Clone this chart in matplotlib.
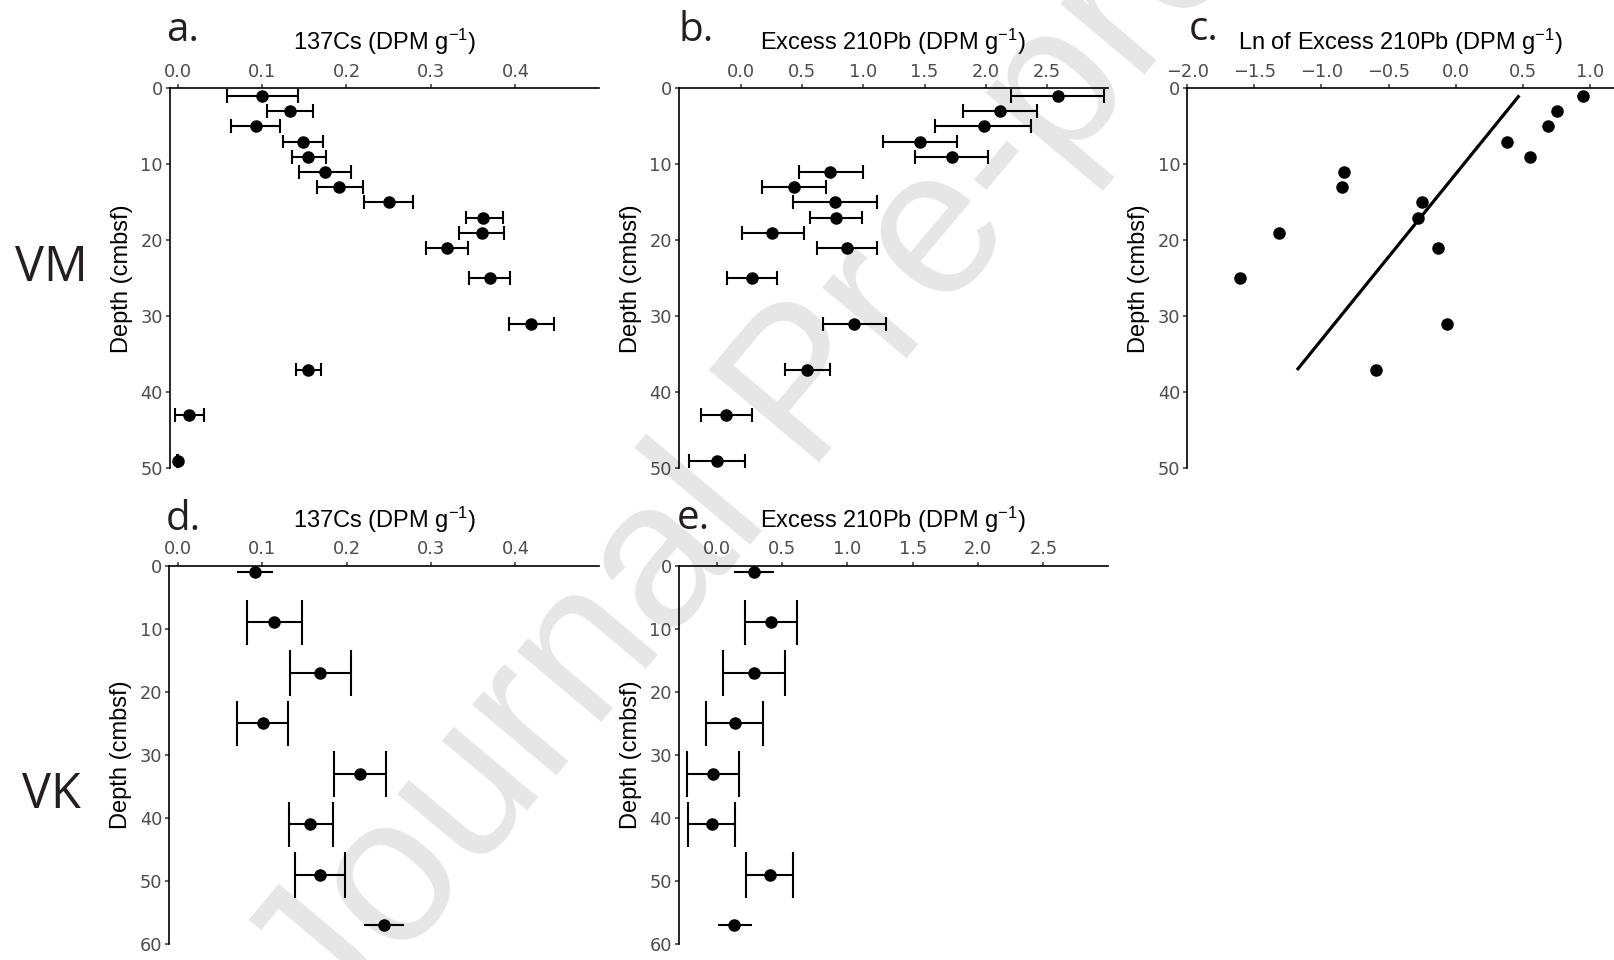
import matplotlib
matplotlib.use("Agg")
import matplotlib.pyplot as plt

plt.rcParams['font.family'] = ['Liberation Sans', 'DejaVu Sans']
plt.rcParams['mathtext.fontset'] = 'custom'
plt.rcParams['mathtext.rm'] = 'Liberation Sans'
plt.rcParams['mathtext.default'] = 'regular'

# ---- VM core (panels a, b, c) ----
depth_vm = [1, 3, 5, 7, 9, 11, 13, 15, 17, 19, 21, 25, 31, 37, 43, 49]
cs_vm = [0.100, 0.133, 0.0925, 0.148, 0.155, 0.175, 0.191, 0.250,
         0.362, 0.360, 0.319, 0.370, 0.419, 0.155, 0.014, 0.0004]
cs_vm_lo = [0.058, 0.1055, 0.063, 0.125, 0.135, 0.144, 0.165, 0.221,
            0.341, 0.333, 0.294, 0.345, 0.392, 0.140, -0.0036, -0.001]
cs_vm_hi = [0.142, 0.160, 0.121, 0.172, 0.176, 0.205, 0.219, 0.279,
            0.385, 0.387, 0.344, 0.394, 0.446, 0.170, 0.0316, 0.001]

pb_vm = [2.593, 2.118, 1.984, 1.463, 1.725, 0.729, 0.428, 0.767,
         0.772, 0.254, 0.865, 0.087, 0.925, 0.540, -0.123, -0.202]
pb_vm_lo = [2.211, 1.812, 1.588, 1.160, 1.425, 0.472, 0.169, 0.426,
            0.559, 0.003, 0.620, -0.117, 0.666, 0.358, -0.333, -0.426]
pb_vm_hi = [2.967, 2.421, 2.374, 1.766, 2.022, 0.993, 0.690, 1.114,
            0.985, 0.510, 1.114, 0.289, 1.182, 0.726, 0.085, 0.030]

depth_ln = [1, 3, 5, 7, 9, 11, 13, 15, 17, 19, 21, 25, 31, 37]
ln_pb_vm = [0.951, 0.755, 0.690, 0.385, 0.554, -0.830, -0.850, -0.248,
            -0.278, -1.316, -0.132, -1.605, -0.065, -0.591]
fit_x = [0.467, -1.175]
fit_depth = [1.1, 36.9]

# ---- VK core (panels d, e) ----
depth_vk = [1, 9, 17, 25, 33, 41, 49, 57]
cs_vk = [0.0917, 0.1142, 0.169, 0.1008, 0.216, 0.157, 0.168, 0.244]
cs_vk_lo = [0.070, 0.0818, 0.133, 0.0707, 0.1846, 0.132, 0.139, 0.221]
cs_vk_hi = [0.1134, 0.147, 0.2055, 0.131, 0.247, 0.184, 0.198, 0.268]
pb_vk = [0.288, 0.416, 0.283, 0.138, -0.026, -0.036, 0.408, 0.135]
pb_vk_lo = [0.135, 0.214, 0.046, -0.082, -0.227, -0.222, 0.227, 0.008]
pb_vk_hi = [0.441, 0.617, 0.526, 0.355, 0.173, 0.143, 0.584, 0.268]
vk_caps = [False, True, True, True, True, True, True, False]

W, H = 1614, 960
fig = plt.figure(figsize=(W / 100, H / 100), dpi=100)

cs_label = r'137Cs (DPM g$^{-1}$)'
pb_label = r'Excess 210Pb (DPM g$^{-1}$)'
ln_label = r'Ln of Excess 210Pb (DPM g$^{-1}$)'


def make_axes(x0, x1, ytop, ybot, xlim, ylim_max, xticks, xlabel):
    ax = fig.add_axes([x0 / W, 1 - ybot / H, (x1 - x0) / W, (ybot - ytop) / H])
    ax.set_xlim(*xlim)
    ax.set_ylim(ylim_max, 0)
    ax.set_xticks(xticks)
    ax.set_xticklabels([f'{t:.1f}'.replace('-', '\u2212') for t in xticks])
    ax.set_yticks(range(0, ylim_max + 1, 10))
    ax.xaxis.tick_top()
    ax.xaxis.set_label_position('top')
    for s in ['right', 'bottom']:
        ax.spines[s].set_visible(False)
    for s in ['left', 'top']:
        ax.spines[s].set_linewidth(1.2)
        ax.spines[s].set_color('black')
    ax.tick_params(axis='both', direction='out', length=3, width=1.1,
                   color='#333333', labelcolor='#4D4D4D', labelsize=12.8,
                   labelfontfamily='DejaVu Sans')
    ax.tick_params(axis='x', pad=2.6)
    ax.tick_params(axis='y', pad=2.0)
    ax.set_xlabel(xlabel, fontsize=17)
    ax.set_ylabel('Depth (cmbsf)', fontsize=17)
    h = ybot - ytop
    ax.xaxis.set_label_coords(0.5, 1 + 38.3 / h)
    ax.yaxis.set_label_coords(-37.0 / (x1 - x0), 0.5)
    ax.patch.set_alpha(0)
    return ax


def draw_profile(ax, depth, val, lo, hi, cap_half, caps=None):
    ax.hlines(depth, lo, hi, color='black', lw=1.5, zorder=2)
    if caps is None:
        caps = [True] * len(depth)
    for d, l, h, c in zip(depth, lo, hi, caps):
        if c:
            ax.vlines([l, h], d - cap_half, d + cap_half, color='black', lw=1.5, zorder=2)
    ax.plot(val, depth, 'o', color='black', ms=8, zorder=3)


ax_a = make_axes(170, 599, 88.3, 468.3, (-0.009, 0.499), 50,
                 [0.0, 0.1, 0.2, 0.3, 0.4], cs_label)
draw_profile(ax_a, depth_vm, cs_vm, cs_vm_lo, cs_vm_hi, 0.9)

ax_b = make_axes(679, 1107.5, 88.3, 468.3, (-0.51, 2.997), 50,
                 [0.0, 0.5, 1.0, 1.5, 2.0, 2.5], pb_label)
draw_profile(ax_b, depth_vm, pb_vm, pb_vm_lo, pb_vm_hi, 0.9)

ax_c = make_axes(1187.3, 1614, 88.3, 468.3, (-2.0, 1.18), 50,
                 [-2.0, -1.5, -1.0, -0.5, 0.0, 0.5, 1.0], ln_label)
ax_c.plot(ln_pb_vm, depth_ln, 'o', color='black', ms=8, zorder=3)
ax_c.plot(fit_x, fit_depth, color='black', lw=2.3, zorder=2)

ax_d = make_axes(169.3, 599, 565.7, 944.3, (-0.010, 0.499), 60,
                 [0.0, 0.1, 0.2, 0.3, 0.4], cs_label)
draw_profile(ax_d, depth_vk, cs_vk, cs_vk_lo, cs_vk_hi, 3.6, vk_caps)

ax_e = make_axes(678.7, 1107.7, 565.7, 944.3, (-0.291, 2.992), 60,
                 [0.0, 0.5, 1.0, 1.5, 2.0, 2.5], pb_label)
draw_profile(ax_e, depth_vk, pb_vk, pb_vk_lo, pb_vk_hi, 3.6, vk_caps)

# panel letters and core names
panel_font = ['Open Sans', 'DejaVu Sans']
for letter, x, y in [('a.', 166, 41), ('b.', 678, 41), ('c.', 1189, 40),
                     ('d.', 166, 530), ('e.', 677, 529)]:
    fig.text(x / W, 1 - y / H, letter, fontsize=29, family=panel_font,
             color='#231f20', ha='left', va='baseline')
fig.text(51 / W, 1 - 281 / H, 'VM', fontsize=35, family=panel_font,
         color='#231f20', ha='center', va='baseline')
fig.text(51 / W, 1 - 808 / H, 'VK', fontsize=35, family=panel_font,
         color='#231f20', ha='center', va='baseline')

# watermark
fig.text(808 / W, 1 - 392 / H, 'Journal Pre-proof', fontsize=150,
         color='black', alpha=0.1, rotation=50, rotation_mode='anchor',
         ha='center', va='center', zorder=10)

fig.savefig('out.png', dpi=100)
